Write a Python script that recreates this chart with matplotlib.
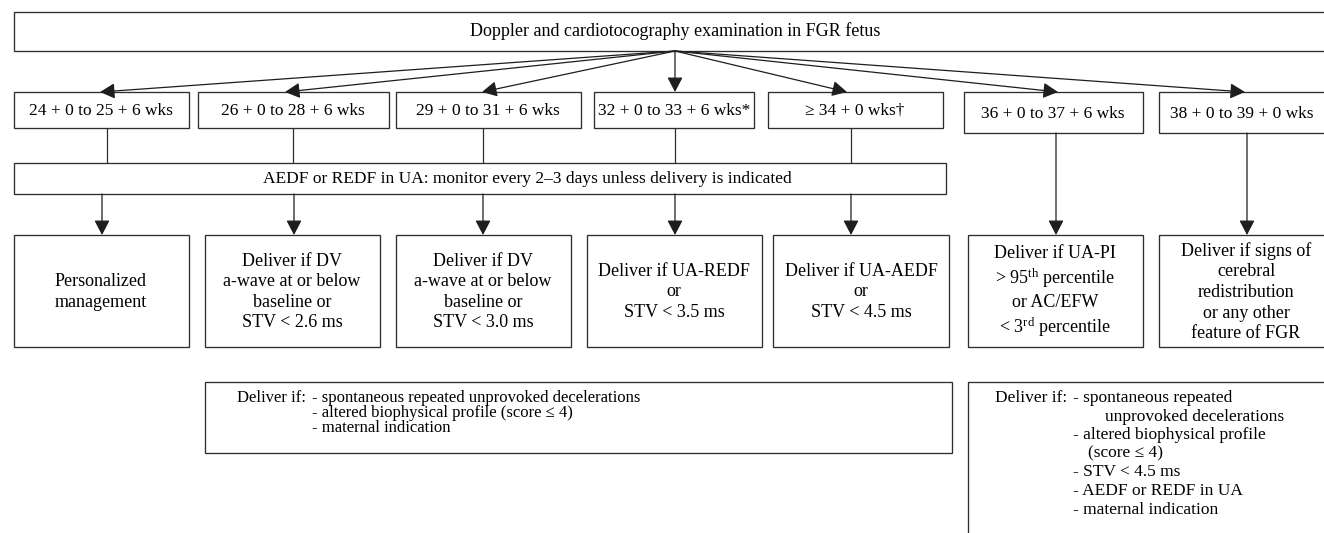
import matplotlib
matplotlib.use("Agg")
import matplotlib.pyplot as plt
from matplotlib.patches import Rectangle

# ---------------- content ----------------
title_text = "Doppler and cardiotocography examination in FGR fetus"
ga_windows = ["24 + 0 to 25 + 6 wks", "26 + 0 to 28 + 6 wks", "29 + 0 to 31 + 6 wks",
              "32 + 0 to 33 + 6 wks*", "\u2265 34 + 0 wks\u2020",
              "36 + 0 to 37 + 6 wks", "38 + 0 to 39 + 0 wks"]
monitor_text = "AEDF or REDF in UA: monitor every 2\u20133 days unless delivery is indicated"
actions = ["Personalized\nmanagement",
           "Deliver if DV\na-wave at or below\nbaseline or\nSTV < 2.6 ms",
           "Deliver if DV\na-wave at or below\nbaseline or\nSTV < 3.0 ms",
           "Deliver if UA-REDF\nor\nSTV < 3.5 ms",
           "Deliver if UA-AEDF\nor\nSTV < 4.5 ms",
           "Deliver if UA-PI\n> 95$^{\\mathrm{th}}$ percentile\nor AC/EFW\n< 3$^{\\mathrm{rd}}$ percentile",
           "Deliver if signs of\ncerebral\nredistribution\nor any other\nfeature of FGR"]
note_lead = "Deliver if:"
note_early_items = ["- spontaneous repeated unprovoked decelerations",
                    "- altered biophysical profile (score \u2264 4)",
                    "- maternal indication"]
note_late_items = ["- spontaneous repeated", "unprovoked decelerations",
                   "- altered biophysical profile", "(score \u2264 4)",
                   "- STV < 4.5 ms", "- AEDF or REDF in UA", "- maternal indication"]

# ---------------- layout ----------------
W, H = 1324, 533
EC = "#2e2e2e"
LW = 0.95
plt.rcParams["font.family"] = ["Liberation Serif", "DejaVu Serif"]
plt.rcParams["mathtext.fontset"] = "custom"
plt.rcParams["mathtext.rm"] = "Liberation Serif"
plt.rcParams["mathtext.it"] = "Liberation Serif:italic"
plt.rcParams["mathtext.bf"] = "Liberation Serif:bold"

fig = plt.figure(figsize=(W / 100, H / 100), dpi=100)
ax = fig.add_axes([0, 0, 1, 1])
ax.set_xlim(0, W)
ax.set_ylim(H, 0)
ax.axis("off")


def box(x0, x1, y0, y1):
    ax.add_patch(Rectangle((x0, y0), x1 - x0, y1 - y0, fill=False,
                           ec=EC, lw=LW, zorder=2))


def arrow(x0, y0, x1, y1):
    ax.annotate("", xy=(x1, y1), xytext=(x0, y0),
                arrowprops=dict(arrowstyle="-|>,head_length=0.9,head_width=0.47",
                                color="#1e1e1e", lw=0.9, shrinkA=0, shrinkB=0,
                                mutation_scale=10), zorder=3)


def line(x0, y0, x1, y1):
    ax.plot([x0, x1], [y0, y1], color=EC, lw=0.9, zorder=1,
            solid_capstyle="butt")


# top box
box(14, 1330, 12, 51)
ax.text(675, 31, title_text, ha="center", va="center", fontsize=13)
origin = (675, 51)

# row 1 (gestational age windows)
row1_x = [(14, 189), (198, 389), (396, 581), (594, 754), (768, 943),
          (964, 1143), (1159, 1330)]
row1_y = [(92, 128)] * 5 + [(92, 133)] * 2
row1_tx = [101, 293, 488, 674, 855, 1053, 1242]
arrow_tips = [100, 285, 482, 675, 847, 1058, 1245]
for (x0, x1), (y0, y1), tx, tip, lab in zip(row1_x, row1_y, row1_tx, arrow_tips, ga_windows):
    box(x0, x1, y0, y1)
    ax.text(tx, (y0 + y1) / 2 + 1, lab, ha="center", va="center", fontsize=12.5)
    arrow(origin[0], origin[1], tip, y0)

# monitor box
box(14, 946, 163, 194)
ax.text(527, 179, monitor_text, ha="center", va="center", fontsize=12.5)
conn_x = [107, 293, 483, 675, 851]
down_x = [102, 294, 483, 675, 851]
for cx, dx in zip(conn_x, down_x):
    line(cx, 128, cx, 163)
    arrow(dx, 194, dx, 235)
for cx in [1056, 1247]:
    arrow(cx, 133, cx, 235)

# bottom decision boxes
row3_x = [(14, 189), (205, 380), (396, 571), (587, 762), (773, 949),
          (968, 1143), (1159, 1330)]
row3_tx = [101, 292, 483, 674, 861, 1055, 1246]
for (x0, x1), tx, lab in zip(row3_x, row3_tx, actions):
    box(x0, x1, 235, 347)
    ax.text(tx, 292, lab, ha="center", va="center", fontsize=13,
            linespacing=1.28)

# note boxes
box(205, 952, 382, 453)
ax.text(306, 398, note_lead, ha="right", va="center", fontsize=12)
for i, t in enumerate(note_early_items):
    ax.text(312, 398 + i * 14.8, t, ha="left", va="center", fontsize=12)

late_indent = [0, 32, 0, 15, 0, 0, 0]
box(968, 1330, 382, 560)
ax.text(1067, 398, note_lead, ha="right", va="center", fontsize=12.5)
for i, (t, ind) in enumerate(zip(note_late_items, late_indent)):
    ax.text(1073 + ind, 398 + i * 18.6, t, ha="left", va="center", fontsize=12.5)

fig.savefig("out.png", dpi=100)
